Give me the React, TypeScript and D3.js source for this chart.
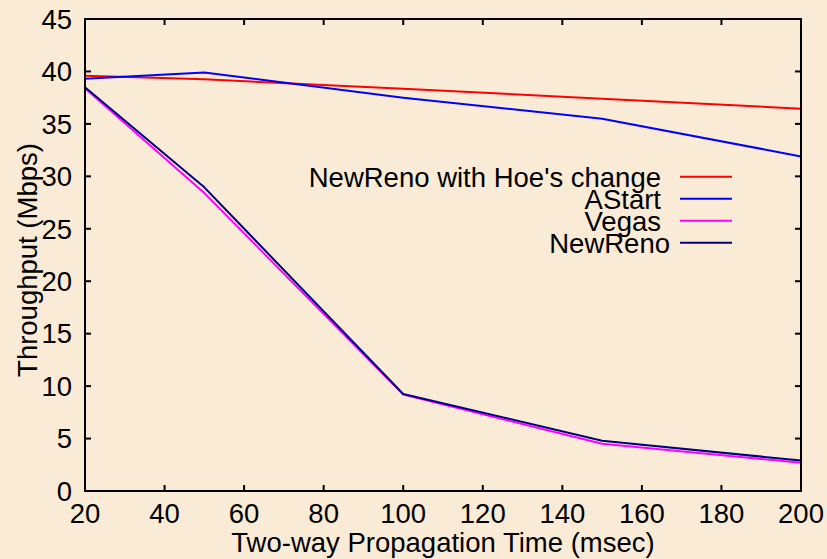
import React from "react";
import * as d3 from "d3";

// Two-way propagation delay (msec) at which throughput was measured
const delays = [20, 50, 100, 150, 200];

// Throughput (Mbps) per TCP variant
const hoeChange = [39.6, 39.25, 38.35, 37.4, 36.45];
const aStart = [39.3, 39.9, 37.5, 35.5, 31.9];
const vegas = [38.4, 28.4, 9.2, 4.5, 2.7];
const newReno = [38.5, 28.95, 9.25, 4.8, 2.9];

const seriesNames = ["NewReno with Hoe's change", "AStart", "Vegas", "NewReno"];
const seriesValues = [hoeChange, aStart, vegas, newReno];
const seriesColors = ["#ff0000", "#0000ff", "#ff00ff", "#000080"];

const xTicks = [20, 40, 60, 80, 100, 120, 140, 160, 180, 200];
const yTicks = [0, 5, 10, 15, 20, 25, 30, 35, 40, 45];

const xTitle = "Two-way Propagation Time (msec)";
const yTitle = "Throughput (Mbps)";

const W = 827;
const H = 559;
const plot = { left: 85, right: 801, top: 19, bottom: 491 };
const FONT = "'Liberation Sans', Arial, Helvetica, sans-serif";
const FS = 27.5;
const TICK = 6;

export default function App() {
  const x = d3.scaleLinear().domain([20, 200]).range([plot.left, plot.right]);
  const y = d3.scaleLinear().domain([0, 45]).range([plot.bottom, plot.top]);
  const line = d3
    .line<[number, number]>()
    .x((d) => x(d[0]))
    .y((d) => y(d[1]));

  const legendTextX = 661;
  const legendLineX0 = 680;
  const legendLineX1 = 732;
  const legendY0 = 176.7;
  const legendStep = 22;

  return (
    <svg
      width={W}
      height={H}
      style={{ position: "fixed", left: 0, top: 0, background: "#faebd7" }}
      fontFamily={FONT}
    >
      <rect x={0} y={0} width={W} height={H} fill="#faebd7" />

      {/* series */}
      {seriesValues.map((vals, i) => (
        <path
          key={seriesNames[i]}
          d={line(delays.map((d, j) => [d, vals[j]] as [number, number])) || ""}
          fill="none"
          stroke={seriesColors[i]}
          strokeWidth={2}
          strokeLinejoin="round"
        />
      ))}

      {/* frame */}
      <rect
        x={plot.left}
        y={plot.top}
        width={plot.right - plot.left}
        height={plot.bottom - plot.top}
        fill="none"
        stroke="#000"
        strokeWidth={2}
      />

      {/* inward ticks, mirrored on all sides */}
      {xTicks.map((t) => (
        <g key={"xt" + t} stroke="#000" strokeWidth={2}>
          <line x1={x(t)} x2={x(t)} y1={plot.bottom} y2={plot.bottom - TICK} />
          <line x1={x(t)} x2={x(t)} y1={plot.top} y2={plot.top + TICK} />
        </g>
      ))}
      {yTicks.map((t) => (
        <g key={"yt" + t} stroke="#000" strokeWidth={2}>
          <line x1={plot.left} x2={plot.left + TICK} y1={y(t)} y2={y(t)} />
          <line x1={plot.right} x2={plot.right - TICK} y1={y(t)} y2={y(t)} />
        </g>
      ))}

      {/* tick labels */}
      {xTicks.map((t) => (
        <text key={"xl" + t} x={x(t)} y={523} textAnchor="middle" fontSize={FS} fill="#000">
          {t}
        </text>
      ))}
      {yTicks.map((t) => (
        <text key={"yl" + t} x={72} y={y(t) + 9.8} textAnchor="end" fontSize={FS} fill="#000">
          {t}
        </text>
      ))}

      {/* axis titles */}
      <text x={443} y={552} textAnchor="middle" fontSize={FS} fill="#000">
        {xTitle}
      </text>
      <text
        transform={`translate(37,260) rotate(-90)`}
        textAnchor="middle"
        fontSize={FS}
        fill="#000"
      >
        {yTitle}
      </text>

      {/* legend */}
      {seriesNames.map((name, i) => {
        const ly = legendY0 + i * legendStep;
        const tx = i === seriesNames.length - 1 ? legendTextX + 9 : legendTextX;
        return (
          <g key={"lg" + name}>
            <text x={tx} y={ly + 9.8} textAnchor="end" fontSize={FS} fill="#000">
              {name}
            </text>
            <line
              x1={legendLineX0}
              x2={legendLineX1}
              y1={ly}
              y2={ly}
              stroke={seriesColors[i]}
              strokeWidth={2}
            />
          </g>
        );
      })}
    </svg>
  );
}
